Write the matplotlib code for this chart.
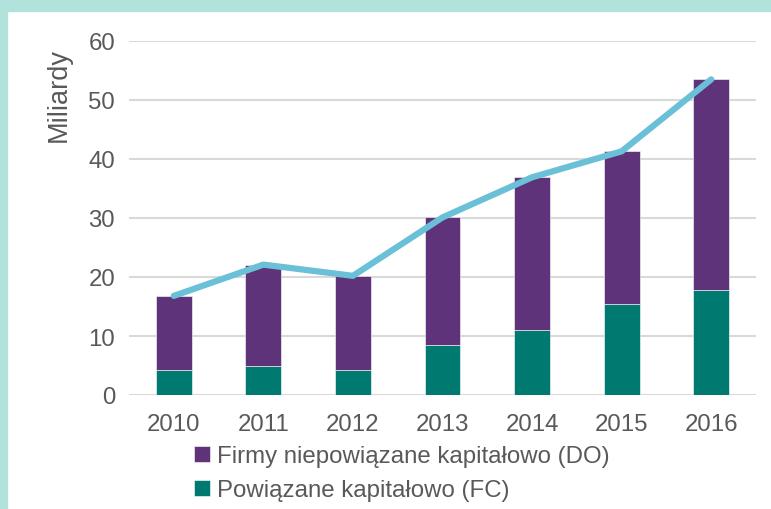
import matplotlib.pyplot as plt
from matplotlib.patches import Rectangle

# Data (billions)
years = ["2010", "2011", "2012", "2013", "2014", "2015", "2016"]
fc_values = [4.3, 5.0, 4.2, 8.4, 11.1, 15.5, 17.8]
do_values = [12.5, 17.1, 16.0, 21.7, 25.8, 25.8, 35.7]
total_values = [16.8, 22.1, 20.2, 30.1, 36.9, 41.3, 53.5]

plt.rcParams['font.family'] = ['Liberation Sans', 'DejaVu Sans']

TEXT = "#595959"
PURPLE = "#5e337a"
TEAL = "#007a70"
LINE = "#6ac0d6"
BORDER = "#b2e2dc"
FS = 17.3

fig = plt.figure(figsize=(7.71, 5.10), dpi=100)
fig.patch.set_facecolor("white")

# teal frame on the left and top edges
fig.patches.append(Rectangle((0, 0), 7 / 771, 1, transform=fig.transFigure,
                             color=BORDER, zorder=0))
fig.patches.append(Rectangle((0, 1 - 12 / 510), 1, 12 / 510, transform=fig.transFigure,
                             color=BORDER, zorder=0))

ax = fig.add_axes([129 / 771, 1 - 396 / 510, (756 - 129) / 771, (396 - 42) / 510])

x = range(len(years))
b_fc = ax.bar(x, fc_values, width=0.4, color=TEAL, edgecolor="white", linewidth=0.4, zorder=2)
b_do = ax.bar(x, do_values, width=0.4, bottom=fc_values, color=PURPLE,
              edgecolor="white", linewidth=0.4, zorder=2)
ax.plot(x, total_values, color=LINE, linewidth=4.5, solid_capstyle="round", zorder=3)

ax.set_xlim(-0.5, len(years) - 0.5)
ax.set_ylim(0, 60)
ax.set_yticks(range(0, 61, 10))
ax.set_xticks(list(x))
ax.set_xticklabels(years)
ax.grid(axis="y", color="#d9d9d9", linewidth=1.5, zorder=0)
ax.set_axisbelow(True)
for s in ax.spines.values():
    s.set_visible(False)
ax.tick_params(length=0, labelsize=FS, labelcolor=TEXT)
ax.tick_params(axis="x", pad=13)
ax.tick_params(axis="y", pad=10)
ax.set_ylabel("Miliardy", fontsize=19.5, color=TEXT)
ax.yaxis.set_label_coords(-0.092, 0.85)

fig.legend([b_do, b_fc],
           ["Firmy niepowiązane kapitałowo (DO)", "Powiązane kapitałowo (FC)"],
           loc="upper left", bbox_to_anchor=(194 / 771, 1 - 446 / 510),
           frameon=False, fontsize=FS, labelcolor=TEXT,
           handlelength=0.65, handleheight=0.65, handletextpad=0.3,
           labelspacing=0.5, borderaxespad=0, borderpad=0)

fig.savefig("out.png", dpi=100)
